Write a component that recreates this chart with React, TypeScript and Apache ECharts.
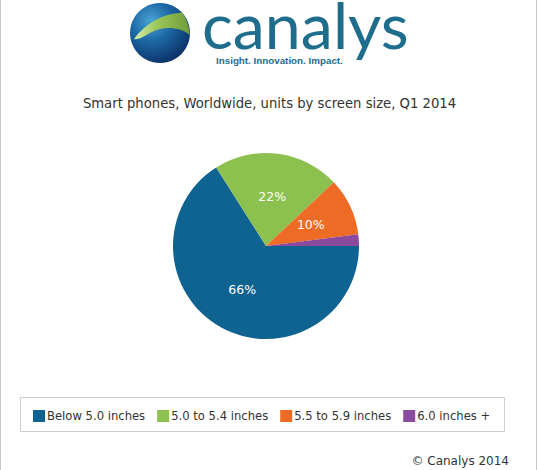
import { useEffect, useRef } from "react";
import * as echarts from "echarts";

// screen size buckets, Q1 2014 share of units (%)
const categories = ["Below 5.0 inches", "5.0 to 5.4 inches", "5.5 to 5.9 inches", "6.0 inches +"];
const shares = [66, 22, 10, 2];
const colors = ["#0f6391", "#8cc04f", "#ee6b25", "#8b4a9d"];

const titleText = "Smart phones, Worldwide, units by screen size, Q1 2014";
const footerText = "© Canalys 2014";

// green swoosh on the globe, local coords around the globe centre (r = 30)
const swooshPath =
  "M-26 6 C-15 -9 2 -19 22 -20.4 Q28.5 -12 30 2 C20 -6 4 -8 -10 0 C-17 4 -22 7 -26 6 Z";
echarts.graphic.registerShape("swoosh", echarts.graphic.extendPath(swooshPath, {}));

export default function App() {
  const ref = useRef<HTMLDivElement>(null);

  useEffect(() => {
    if (!ref.current) return;
    const chart = echarts.init(ref.current, undefined, { renderer: "svg" });
    const font = "'DejaVu Sans', Verdana, sans-serif";

    chart.setOption({
      animation: false,
      backgroundColor: "#fff",
      color: colors,
      title: {
        text: titleText,
        left: "center",
        top: 92,
        textStyle: { fontFamily: font, fontSize: 13.2, fontWeight: "normal", color: "#333" },
      },
      legend: {
        left: 33,
        top: 410,
        padding: 0,
        itemWidth: 12,
        itemHeight: 12,
        itemGap: 12,
        icon: "rect",
        data: categories,
        textStyle: { fontFamily: font, fontSize: 11.6, color: "#333", padding: [0, 0, 0, -3] },
      },
      graphic: [
        { type: "line", shape: { x1: 0.5, y1: 0, x2: 0.5, y2: 470 }, style: { stroke: "#c8c8c8", lineWidth: 1 } },
        { type: "line", shape: { x1: 536.5, y1: 0, x2: 536.5, y2: 470 }, style: { stroke: "#c8c8c8", lineWidth: 1 } },
        {
          type: "rect",
          shape: { x: 20.5, y: 397.5, width: 484, height: 34 },
          style: { fill: "none", stroke: "#cfcfcf", lineWidth: 1 },
        },
        {
          type: "text",
          right: 30,
          top: 455,
          style: { text: footerText, font: `12px ${font}`, fill: "#333" },
        },
        // logo
        {
          type: "circle",
          shape: { cx: 160, cy: 33, r: 30 },
          style: {
            fill: new echarts.graphic.RadialGradient(0.35, 0.3, 0.75, [
              { offset: 0, color: "#4aa3d6" },
              { offset: 0.45, color: "#1c68a5" },
              { offset: 1, color: "#0b3066" },
            ]),
          },
        },
        {
          type: "swoosh",
          x: 160,
          y: 33,
          style: {
            fill: new echarts.graphic.LinearGradient(0, 0, 1, 0, [
              { offset: 0, color: "#d7ecb0" },
              { offset: 0.4, color: "#9cc75a" },
              { offset: 1, color: "#6f9c3c" },
            ]),
          },
        },
        {
          type: "text",
          x: 202,
          y: 3,
          style: {
            text: "canalys",
            font: "64.5px Lato, 'Open Sans', sans-serif",
            lineHeight: 42,
            fill: "#1e6d8d",
            verticalAlign: "top",
          },
        },
        {
          type: "text",
          left: 216,
          top: 55,
          style: {
            text: "Insight. Innovation. Impact.",
            font: "bold 9.8px 'Liberation Sans', Arial, sans-serif",
            fill: "#1e6d8d",
          },
        },
      ],
      series: [
        {
          type: "pie",
          center: [266, 246],
          radius: [0, 93],
          startAngle: 0,
          clockwise: true,
          avoidLabelOverlap: false,
          data: categories.map((name, i) => ({ name, value: shares[i] })),
          itemStyle: { borderWidth: 0 },
          label: {
            show: true,
            position: "inside",
            color: "#fff",
            fontFamily: font,
            fontSize: 12.5,
            formatter: (p: any) => (p.value >= 5 ? `${p.value}%` : ""),
          },
          labelLine: { show: false },
          emphasis: { disabled: true },
        },
      ],
    });

    return () => chart.dispose();
  }, []);

  return (
    <div
      ref={ref}
      style={{ position: "absolute", left: 0, top: 0, width: 539, height: 470 }}
    />
  );
}
